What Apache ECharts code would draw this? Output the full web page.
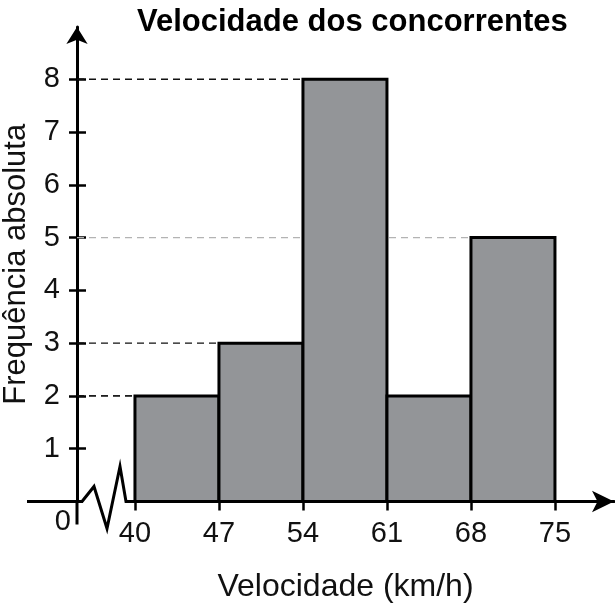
<!DOCTYPE html>
<html>
<head>
<meta charset="utf-8">
<script src="https://cdn.jsdelivr.net/npm/echarts@6/dist/echarts.min.js"></script>
<style>
html,body{margin:0;padding:0;background:#fff;}
#c{width:615px;height:607px;}
</style>
</head>
<body>
<div id="c"></div>
<script>
// ---- data ----
const binEdges = [40, 47, 54, 61, 68, 75];
const frequencies = [2, 3, 8, 2, 5];
const yTickValues = [1, 2, 3, 4, 5, 6, 7, 8];
const titleText = 'Velocidade dos concorrentes';
const xName = 'Velocidade (km/h)';
const yName = 'Frequência absoluta';
const originLabel = '0';

// bins built from edges + frequencies
const bins = frequencies.map((f, i) => [binEdges[i], binEdges[i + 1], f]);

const XMIN = 35.17, XMAX = 79.92, YMAX = 8.99;
const FONT = 'Liberation Sans, Arial, sans-serif';
const guideColor = { 5: '#b3b3b3' };

const chart = echarts.init(document.getElementById('c'), null, { renderer: 'canvas' });

const option = {
  animation: false,
  backgroundColor: '#fff',
  title: {
    text: titleText,
    left: 132, top: 2,
    textStyle: { fontFamily: FONT, fontWeight: 'bold', fontSize: 31, color: '#000' }
  },
  grid: { left: 77, right: 1, top: 27, bottom: 105.5, outerBoundsMode: 'none', containLabel: false },
  xAxis: {
    type: 'value', min: XMIN, max: XMAX,
    name: xName, nameLocation: 'middle', nameGap: 70,
    nameTextStyle: { fontFamily: FONT, fontSize: 32, color: '#111' },
    axisLine: { show: true, lineStyle: { color: '#000', width: 3 }, symbol: ['none', 'arrow'], symbolSize: [16, 22] },
    axisTick: { show: true, customValues: binEdges, length: 9, lineStyle: { color: '#000', width: 2.5 } },
    axisLabel: { customValues: binEdges, fontFamily: FONT, fontSize: 29, color: '#111', margin: 18 },
    splitLine: { show: false }
  },
  yAxis: [{
    type: 'value', min: 0, max: YMAX,
    name: yName, nameLocation: 'middle', nameGap: 45,
    nameTextStyle: { fontFamily: FONT, fontSize: 31, color: '#111' },
    axisLine: { show: true, lineStyle: { color: '#000', width: 3 }, symbol: ['none', 'arrow'], symbolSize: [16, 17] },
    axisTick: { show: true, customValues: yTickValues, length: 8, lineStyle: { color: '#000', width: 2.5 } },
    axisLabel: { customValues: yTickValues, fontFamily: FONT, fontSize: 29, color: '#111', margin: 17 },
    splitLine: { show: false }
  }, {
    type: 'value', min: 0, max: YMAX, position: 'left',
    axisLine: { show: false },
    axisTick: { show: true, inside: true, customValues: yTickValues, length: 9, lineStyle: { color: '#000', width: 2.5 } },
    axisLabel: { show: false },
    splitLine: { show: false }
  }],
  series: [{
    type: 'custom',
    z: 1,
    data: bins,
    renderItem: function (params, api) {
      const lo = api.value(0), val = api.value(2);
      const a = api.coord([XMIN, val]);
      const b = api.coord([lo, val]);
      return {
        type: 'line',
        shape: { x1: a[0], y1: a[1], x2: b[0], y2: b[1] },
        style: { stroke: guideColor[val] || '#111', lineWidth: 1.3, lineDash: [7, 5] }
      };
    }
  }, {
    type: 'custom',
    z: 2,
    data: bins,
    renderItem: function (params, api) {
      const p0 = api.coord([api.value(0), api.value(2)]);
      const p1 = api.coord([api.value(1), 0]);
      return {
        type: 'rect',
        shape: { x: p0[0], y: p0[1], width: p1[0] - p0[0], height: p1[1] - p0[1] },
        style: { fill: '#939598', stroke: '#000', lineWidth: 3 }
      };
    }
  }]
};
chart.setOption(option);

// axis break decorations near the origin
const o = chart.convertToPixel({ gridIndex: 0 }, [XMIN, 0]);
const x40 = chart.convertToPixel({ xAxisIndex: 0 }, binEdges[0]);
const ox = o[0], oy = o[1];
chart.setOption({
  graphic: [
    { type: 'line', z: 100, shape: { x1: ox - 50, y1: oy, x2: ox, y2: oy }, style: { stroke: '#000', lineWidth: 3 } },
    { type: 'line', z: 100, shape: { x1: ox, y1: oy, x2: ox, y2: oy + 23 }, style: { stroke: '#000', lineWidth: 3 } },
    { type: 'rect', z: 100, shape: { x: ox + 6, y: oy - 3, width: x40 - ox - 14, height: 6 }, style: { fill: '#fff' } },
    { type: 'polyline', z: 101, shape: { points: [[ox + 5, oy], [ox + 17, oy - 15], [ox + 30, oy + 27], [ox + 43, oy - 35], [ox + 49, oy], [x40, oy]] },
      style: { stroke: '#000', lineWidth: 3, fill: null, lineJoin: 'miter' } },
    { type: 'text', z: 101, x: ox - 6, y: oy + 20, style: { text: originLabel, font: '29px ' + FONT, fill: '#111', align: 'right', verticalAlign: 'middle' } }
  ]
});
</script>
</body>
</html>
